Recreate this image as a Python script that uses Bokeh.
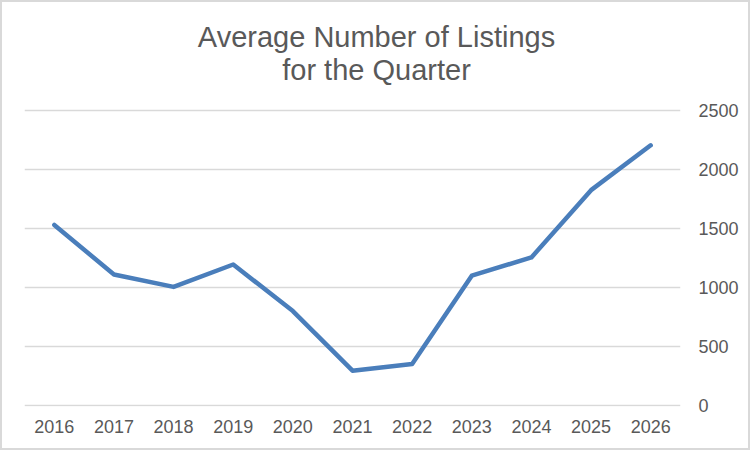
from bokeh.plotting import figure
from bokeh.models import Range1d, FixedTicker, Label, ColumnDataSource
from bokeh.embed import file_html
from bokeh.resources import INLINE

years = ["2016", "2017", "2018", "2019", "2020", "2021", "2022", "2023", "2024", "2025", "2026"]
listings = [1530, 1110, 1005, 1195, 800, 295, 352, 1100, 1255, 1825, 2205]
y_ticks = [0, 500, 1000, 1500, 2000, 2500]
title_lines = ["Average Number of Listings", "for the Quarter"]

FONT = "Liberation Sans"
GRAY = "#595959"

# vertical scale: 0.118 px per unit; frame extended upward to hold the title
PX_PER_UNIT = 0.118
FRAME_H = 406
Y0 = -1.0 / PX_PER_UNIT
Y1 = Y0 + FRAME_H / PX_PER_UNIT

src = ColumnDataSource(dict(year=years, n=listings))

p = figure(x_range=years, y_range=Range1d(Y0, Y1), width=750, height=450,
           frame_width=656, frame_height=FRAME_H,
           min_border_left=24, min_border_right=70, min_border_top=0, min_border_bottom=44,
           output_backend="svg", toolbar_location=None, y_axis_location="right")

p.line("year", "n", source=src, line_color="#4a7ebb", line_width=4.5, line_join="round", line_cap="round")

p.outline_line_color = None
p.background_fill_color = None
p.border_fill_color = None
p.xgrid.grid_line_color = None
p.ygrid.grid_line_color = "#d9d9d9"
p.ygrid.grid_line_width = 1.5
p.ygrid.ticker = FixedTicker(ticks=y_ticks)

for ax in p.xaxis:
    ax.axis_line_color = None
    ax.major_tick_line_color = None
    ax.minor_tick_line_color = None
    ax.major_label_text_font = FONT
    ax.major_label_text_font_size = "18px"
    ax.major_label_text_color = GRAY
    ax.major_label_standoff = 7

for ax in p.yaxis:
    ax.ticker = FixedTicker(ticks=y_ticks)
    ax.axis_line_color = None
    ax.major_tick_line_color = None
    ax.minor_tick_line_color = None
    ax.major_label_text_font = FONT
    ax.major_label_text_font_size = "18px"
    ax.major_label_text_color = GRAY
    ax.major_label_standoff = 12

for i, t in enumerate(title_lines):
    base_px = 36 + 33 * i
    p.add_layout(Label(x=352, y=(FRAME_H - base_px) / PX_PER_UNIT + Y0,
                       x_units="screen", y_units="data", text=t,
                       text_align="center", text_baseline="alphabetic",
                       text_font=FONT, text_font_size="29px", text_color=GRAY))

p.styles = {"box-shadow": "inset 0 0 0 2px #d9d9d9", "background-color": "white"}

open("out.html", "w").write(file_html(p, INLINE))
